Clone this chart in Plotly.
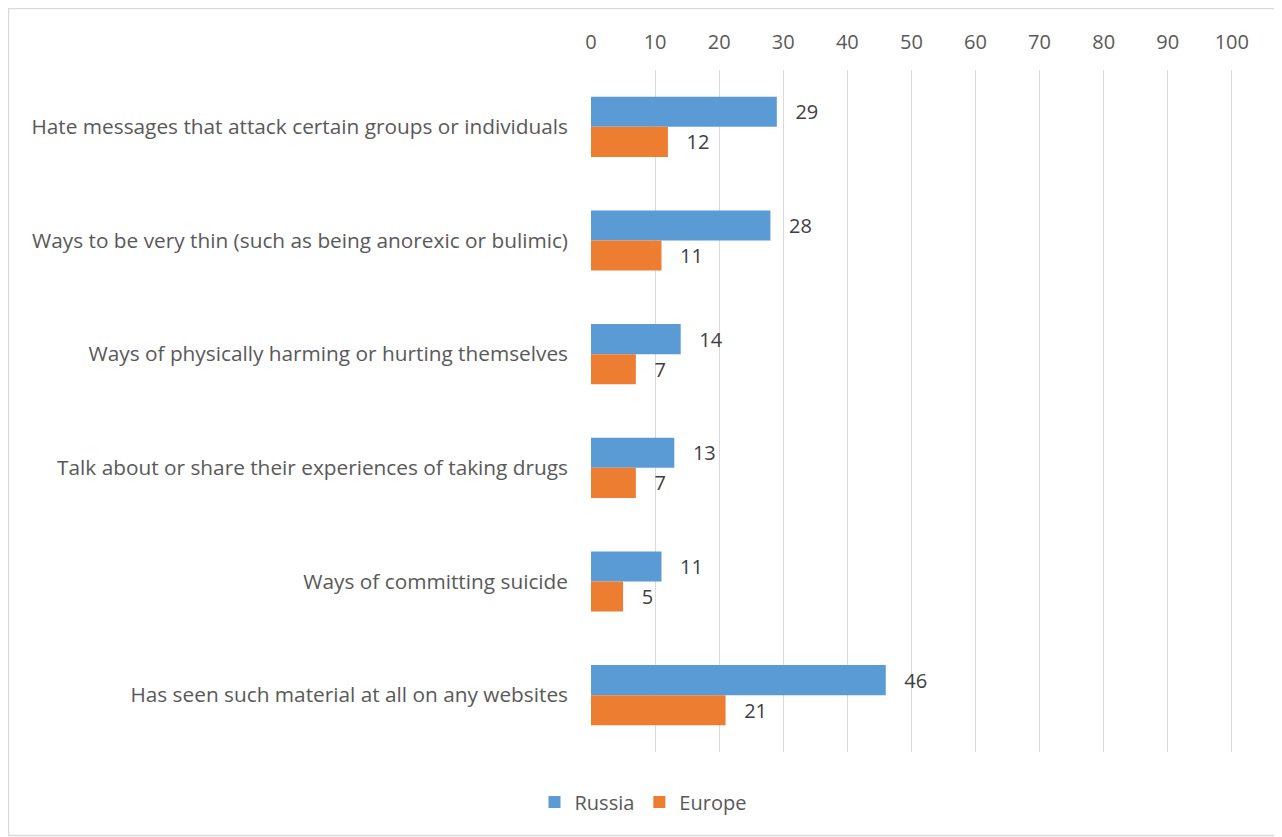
import plotly.graph_objects as go

categories = [
    "Hate messages that attack certain groups or individuals",
    "Ways to be very thin (such as being anorexic or bulimic)",
    "Ways of physically harming or hurting themselves",
    "Talk about or share their experiences of taking drugs",
    "Ways of committing suicide",
    "Has seen such material at all on any websites",
]
russia = [29, 28, 14, 13, 11, 46]
europe = [12, 11, 7, 7, 5, 21]

FONT = "'Open Sans', 'Noto Sans', sans-serif"
FS = 20
OFF = 8  # default body margin of the html page

fig = go.Figure()
for name, vals, col in (("Russia", russia, "#5B9BD5"), ("Europe", europe, "#ED7D31")):
    fig.add_trace(go.Bar(
        name=name, y=categories, x=vals, orientation="h",
        marker=dict(color=col, line=dict(width=0)),
        texttemplate="\u00a0\u00a0\u00a0%{x}", textposition="outside",
        textfont=dict(size=FS, color="#404040", family=FONT),
        cliponaxis=False,
    ))

XMAX = 100.5
W, H = 1282 - OFF, 837 - OFF
L = 591 - OFF
R = W - (L + round(641 * XMAX / 100))
T, B = 70 - OFF, H - (752 - OFF)
pw, ph = W - L - R, H - T - B

def px_x(px):
    return (px - OFF - L) / pw

def px_y(py):
    return (H - B - (py - OFF)) / ph

fig.update_layout(
    width=W, height=H,
    margin=dict(l=L, r=R, t=T, b=B, autoexpand=False),
    barmode="group", bargap=0.47, bargroupgap=0,
    paper_bgcolor="white", plot_bgcolor="white",
    font=dict(family=FONT, size=FS, color="#595959"),
    xaxis=dict(
        side="top", range=[0, XMAX], tickvals=list(range(0, 101, 10)), showgrid=True,
        gridcolor="#D9D9D9", gridwidth=1, zeroline=False, showline=False,
        ticks="", tickfont=dict(size=FS, color="#595959"),
        ticklabelstandoff=16,
    ),
    yaxis=dict(
        autorange="reversed", showgrid=False, zeroline=False, showline=False,
        ticks="", tickfont=dict(size=20.8, color="#595959"),
        ticklabelstandoff=22,
    ),
    legend=dict(
        orientation="h", x=px_x(643), xanchor="center", y=px_y(802), yanchor="middle",
        font=dict(size=FS, color="#595959"), traceorder="normal",
        itemwidth=30,
    ),
    shapes=[dict(
        type="rect", xref="paper", yref="paper",
        x0=px_x(8.5), x1=px_x(1278.5), y0=px_y(835.5), y1=px_y(8.5),
        line=dict(color="#D9D9D9", width=1.5), fillcolor="rgba(0,0,0,0)",
        layer="below",
    )],
)

fig.write_html("out.html")
